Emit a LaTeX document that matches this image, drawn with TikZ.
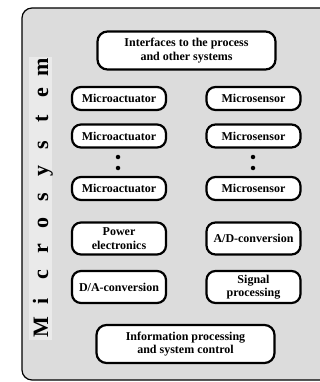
\documentclass[tikz,border=0pt]{standalone}
\usepackage{fontspec}
\setmainfont{Liberation Serif}
\definecolor{bggray}{RGB}{220,220,220}
\definecolor{stripgray}{RGB}{234,234,234}
\newcommand{\lspbox}[1]{\makebox[26pt]{#1}}
\begin{document}
\begin{tikzpicture}[x=1pt,y=-1pt,
  box/.style={draw=black, line width=2.2pt, fill=white, rounded corners=9pt,
    font=\fontsize{12}{13.5}\selectfont\bfseries, align=center, inner sep=0pt},
  sbox/.style={box, minimum width=94pt, minimum height=23pt},
  tbox/.style={box, minimum width=94pt, minimum height=32pt},
  wbox/.style={box, minimum width=178pt, minimum height=38pt, rounded corners=10pt},
  dot/.style={circle, fill=black, inner sep=0pt, minimum size=4.5pt}]
\useasboundingbox (0,0) rectangle (320,382);
\fill[white] (0,0) rectangle (320,382);
\draw[fill=bggray, line width=1.2pt, rounded corners=10pt]
  (320,8) -- (22,8) -- (22,380) -- (320,380);
\fill[stripgray] (29,57) rectangle (52,340);
\node[rotate=90, anchor=base, font=\fontsize{22}{22}\selectfont\bfseries] (title) at (48,197)
  {\lspbox{M}\lspbox{i}\lspbox{c}\lspbox{r}\lspbox{o}\lspbox{s}\lspbox{y}\lspbox{s}\lspbox{t}\lspbox{e}\lspbox{m}};
\node[wbox] (ifc) at (186.5,50.5) {Interfaces to the process\\and other systems};
\node[sbox] (act1) at (119,98.5) {Microactuator};
\node[sbox] (sen1) at (253.5,98.5) {Microsensor};
\node[sbox] (act2) at (119,136) {Microactuator};
\node[sbox] (sen2) at (253.5,136) {Microsensor};
\node[dot] (da1) at (118,157) {};
\node[dot] (da2) at (118,168) {};
\node[dot] (ds1) at (253,157) {};
\node[dot] (ds2) at (253,168) {};
\node[sbox] (act3) at (119,188.5) {Microactuator};
\node[sbox] (sen3) at (253.5,188.5) {Microsensor};
\node[tbox] (pow) at (119,238.5) {Power\\electronics};
\node[tbox] (adc) at (253.5,238.5) {A/D-conversion};
\node[tbox] (dac) at (119,287) {D/A-conversion};
\node[tbox] (sig) at (253.5,287) {Signal\\processing};
\node[wbox] (info) at (185.5,344) {Information processing\\and system control};
\end{tikzpicture}
\end{document}
